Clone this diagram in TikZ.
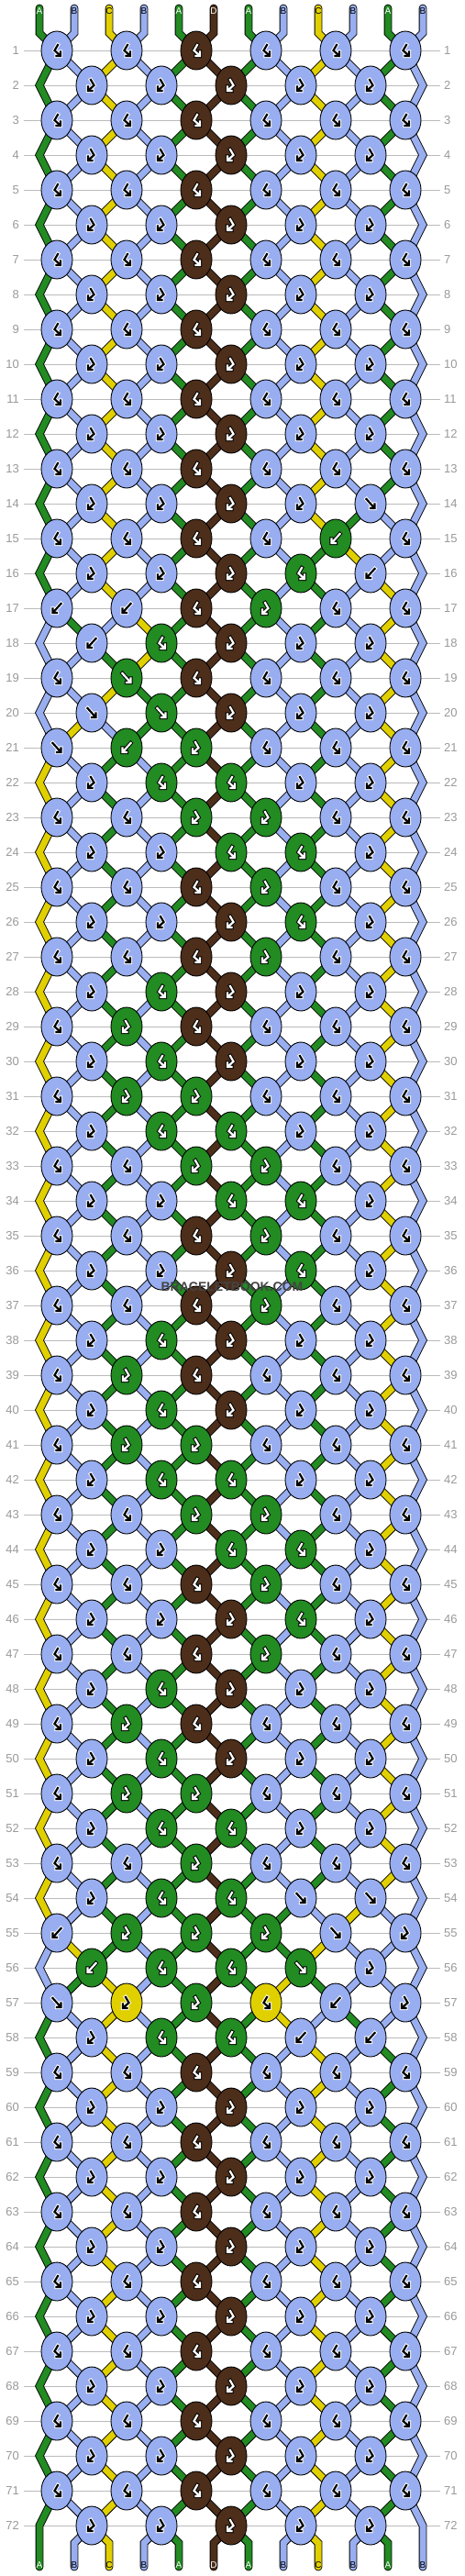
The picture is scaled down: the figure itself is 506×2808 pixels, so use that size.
\documentclass[tikz,border=0pt]{standalone}
\usepackage{fontspec}
\setsansfont{Liberation Sans}
\usetikzlibrary{shapes.geometric}

\definecolor{colA}{HTML}{228B22}
\definecolor{colB}{HTML}{98AEF0}
\definecolor{colC}{HTML}{E1D000}
\definecolor{colD}{HTML}{4D2E1A}
\definecolor{rowgray}{HTML}{BBBBBB}
\definecolor{numgray}{HTML}{999999}
\definecolor{markgray}{HTML}{444444}

% icon, outline and label colour for each thread colour
\def\icA{white}\def\olA{black}\def\lbA{white}
\def\icB{black}\def\olB{white}\def\lbB{black}
\def\icC{black}\def\olC{white}\def\lbC{black}
\def\icD{white}\def\olD{black}\def\lbD{white}

\newcount\knotno
\newcount\sleft
\newcount\sright
\newcount\prevrow
\newcount\prevk

\tikzset{
  knot/.style={ellipse, draw=black, line width=0.9pt, fill=#1, minimum width=34pt, minimum height=42pt, inner sep=0pt},
  strand/.style={draw=black, line width=0.9pt, double=#1, double distance=7pt, line cap=round},
  rowline/.style={draw=rowgray, line width=1pt},
  rownum/.style={text=numgray, inner sep=0pt, font=\sffamily\fontsize{13}{13}\selectfont},
  strlabel/.style={inner sep=0pt, font=\sffamily\fontsize{10}{10}\selectfont},
  iconfg/.style={line width=2.2pt, line cap=rect, line join=miter},
  iconbg/.style={line width=4.2pt, line cap=rect, line join=miter}
}

\newcommand\drawicon[4]{%
  \if#1F\def\ipath{(-4.5,-5) -- (3.8,4.3) (4.5,0.5) -- (4.5,5) -- (0,5)}\fi
  \if#1B\def\ipath{(4.5,-5) -- (-3.8,4.3) (-4.5,0.5) -- (-4.5,5) -- (0,5)}\fi
  \if#1L\def\ipath{(1,-6) -- (-2.5,0) -- (3.3,5.3) (4,1.5) -- (4,6) -- (-0.5,6)}\fi
  \if#1R\def\ipath{(-1,-6) -- (2.5,0) -- (-3.3,5.3) (-4,1.5) -- (-4,6) -- (0.5,6)}\fi
  \draw[iconbg, draw=#3, shift={(#4)}] \ipath;
  \draw[iconfg, draw=#2, shift={(#4)}] \ipath;
}

\newcommand\strandin[2]{%
  \ifnum\row=1
    \draw[strand=#2] (ta-#1) -- (tb-#1) -- (\kname);
  \else
    \prevrow=\numexpr\row-1\relax
    \edef\pp{\the\numexpr\row-2\relax}%
    \ifodd\prevrow
      \ifodd#1 \prevk=\numexpr(#1+1)/2\relax \else \prevk=\numexpr#1/2\relax \fi
      \draw[strand=#2] (k-\the\prevrow-\the\prevk) -- (\kname);
    \else\ifnum#1=1
      \draw[strand=#2] (k-\pp-1) -- (e-\the\prevrow-1) -- (\kname);
    \else\ifnum#1=12
      \draw[strand=#2] (k-\pp-6) -- (e-\the\prevrow-12) -- (\kname);
    \else
      \ifodd#1 \prevk=\numexpr(#1-1)/2\relax \else \prevk=\numexpr#1/2\relax \fi
      \draw[strand=#2] (k-\the\prevrow-\the\prevk) -- (\kname);
    \fi\fi\fi
  \fi}

\newcommand\swapstr{%
  \global\expandafter\let\csname sc\the\sleft\endcsname\rc
  \global\expandafter\let\csname sc\the\sright\endcsname\lc}

% first pass: thread colours, knot spots and strands
\newcommand\placeknot[1]{%
  \advance\knotno by 1
  \ifodd\row\relax \sleft=\numexpr2*\knotno-1\relax \else \sleft=\numexpr2*\knotno\relax \fi
  \sright=\numexpr\sleft+1\relax
  \edef\lc{\csname sc\the\sleft\endcsname}%
  \edef\rc{\csname sc\the\sright\endcsname}%
  \if#1F\let\kc\lc\fi
  \if#1R\let\kc\lc\fi
  \if#1B\let\kc\rc\fi
  \if#1L\let\kc\rc\fi
  \edef\kname{k-\row-\the\knotno}%
  \edef\kx{\the\numexpr24+38*\sleft\relax}%
  \expandafter\xdef\csname kt\kname\endcsname{#1}%
  \expandafter\xdef\csname kc\kname\endcsname{\kc}%
  \coordinate (\kname) at (\kx,\yy);
  \edef\tmp{\noexpand\strandin{\the\sleft}{col\lc}\noexpand\strandin{\the\sright}{col\rc}}\tmp
  \if#1F\swapstr\fi
  \if#1B\swapstr\fi
}

\def\doknots#1{\ifx#1\relax\else\placeknot{#1}\expandafter\doknots\fi}

\begin{document}
\begin{tikzpicture}[x=1pt,y=-1pt]
\useasboundingbox (0,0) rectangle (506,2808);

\foreach \lab [count=\i] in {A,B,C,B,A,D,A,B,C,B,A,B}{
  \global\expandafter\let\csname sc\i\endcsname\lab
  \coordinate (ta-\i) at (5+38*\i,9);
  \coordinate (tb-\i) at (5+38*\i,36);
  \coordinate (ba-\i) at (5+38*\i,2772);
  \coordinate (bb-\i) at (5+38*\i,2798);
}

% F forward, B backward, R forward-backward, L backward-forward
\foreach \tp [count=\row] in {LLLLLL,RRRRR,LLLLLL,RRRRR,LLLLLL,RRRRR,LLLLLL,RRRRR,LLLLLL,RRRRR,
  LLLLLL,RRRRR,LLLLLL,RRRRF,LLLLBL,RRRLB,BBLRLL,BLRRR,LFLLLL,FFRRR,
  FBRLLL,RLLRR,LLRRLL,RRLLR,LLLRLL,RRRLR,LLLRLL,RLRRR,LRLLLL,RLRRR,
  LRRLLL,RLLRR,LLRRLL,RRLLR,LLLRLL,RRRLR,LLLRLL,RLRRR,LRLLLL,RLRRR,
  LRRLLL,RLLRR,LLRRLL,RRLLR,LLLRLL,RRRLR,LLLRLL,RLRRR,LRLLLL,RLRRR,
  LRRLLL,RLLRR,LLRLLL,RLLFF,BRRRFR,BLLFR,FRRLBR,RLLBB,LLLLLL,RRRRR,
  LLLLLL,RRRRR,LLLLLL,RRRRR,LLLLLL,RRRRR,LLLLLL,RRRRR,LLLLLL,RRRRR,
  LLLLLL,RRRRR}{
  \pgfmathtruncatemacro\yy{17+38*\row}
  \draw[rowline] (26,\yy) -- (480,\yy);
  \node[rownum, anchor=east] (nl-\row) at (21,\yy) {\row};
  \node[rownum, anchor=west] (nr-\row) at (484,\yy) {\row};
  \ifodd\row\relax\else
    \coordinate (e-\row-1) at (43,\yy);
    \coordinate (e-\row-12) at (461,\yy);
  \fi
  \knotno=0
  \expandafter\doknots\tp\relax
}

\foreach \i in {1,...,12}{
  \edef\fc{col\csname sc\i\endcsname}
  \ifnum\i=1 \draw[strand=\fc] (k-71-1) -- (e-72-1) -- (bb-1);
  \else\ifnum\i=12 \draw[strand=\fc] (k-71-6) -- (e-72-12) -- (bb-12);
  \else
    \ifodd\i\relax \prevk=\numexpr(\i-1)/2\relax \else \prevk=\numexpr\i/2\relax \fi
    \draw[strand=\fc] (k-72-\the\prevk) -- (ba-\i) -- (bb-\i);
  \fi\fi
}

% second pass: knots and their arrows
\foreach \row in {1,...,72}{
  \ifodd\row\relax\def\nk{6}\else\def\nk{5}\fi
  \foreach \k in {1,...,\nk}{
    \edef\kname{k-\row-\k}
    \edef\kc{\csname kc\kname\endcsname}
    \edef\kt{\csname kt\kname\endcsname}
    \edef\kfill{col\kc}
    \edef\fgc{\csname ic\kc\endcsname}
    \edef\bgc{\csname ol\kc\endcsname}
    \node[knot=\kfill] (\kname) at (\kname) {};
    \edef\tmp{\noexpand\drawicon{\kt}{\fgc}{\bgc}{\kname}}\tmp
  }
}

\foreach \lab [count=\i] in {A,B,C,B,A,D,A,B,C,B,A,B}{
  \edef\lbc{\csname lb\lab\endcsname}
  \node[strlabel, text=\lbc] (tl-\i) at (ta-\i) [yshift=-3pt] {\lab};
}
\foreach \i in {1,...,12}{
  \edef\lab{\csname sc\i\endcsname}
  \edef\lbc{\csname lb\lab\endcsname}
  \node[strlabel, text=\lbc] (bl-\i) at (5+38*\i,2796) {\lab};
}

\node[font=\sffamily\bfseries\fontsize{14}{14}\selectfont, text=markgray, inner sep=0pt] (mark) at (253,1403) {BRACELETBOOK.COM};
\end{tikzpicture}
\end{document}
